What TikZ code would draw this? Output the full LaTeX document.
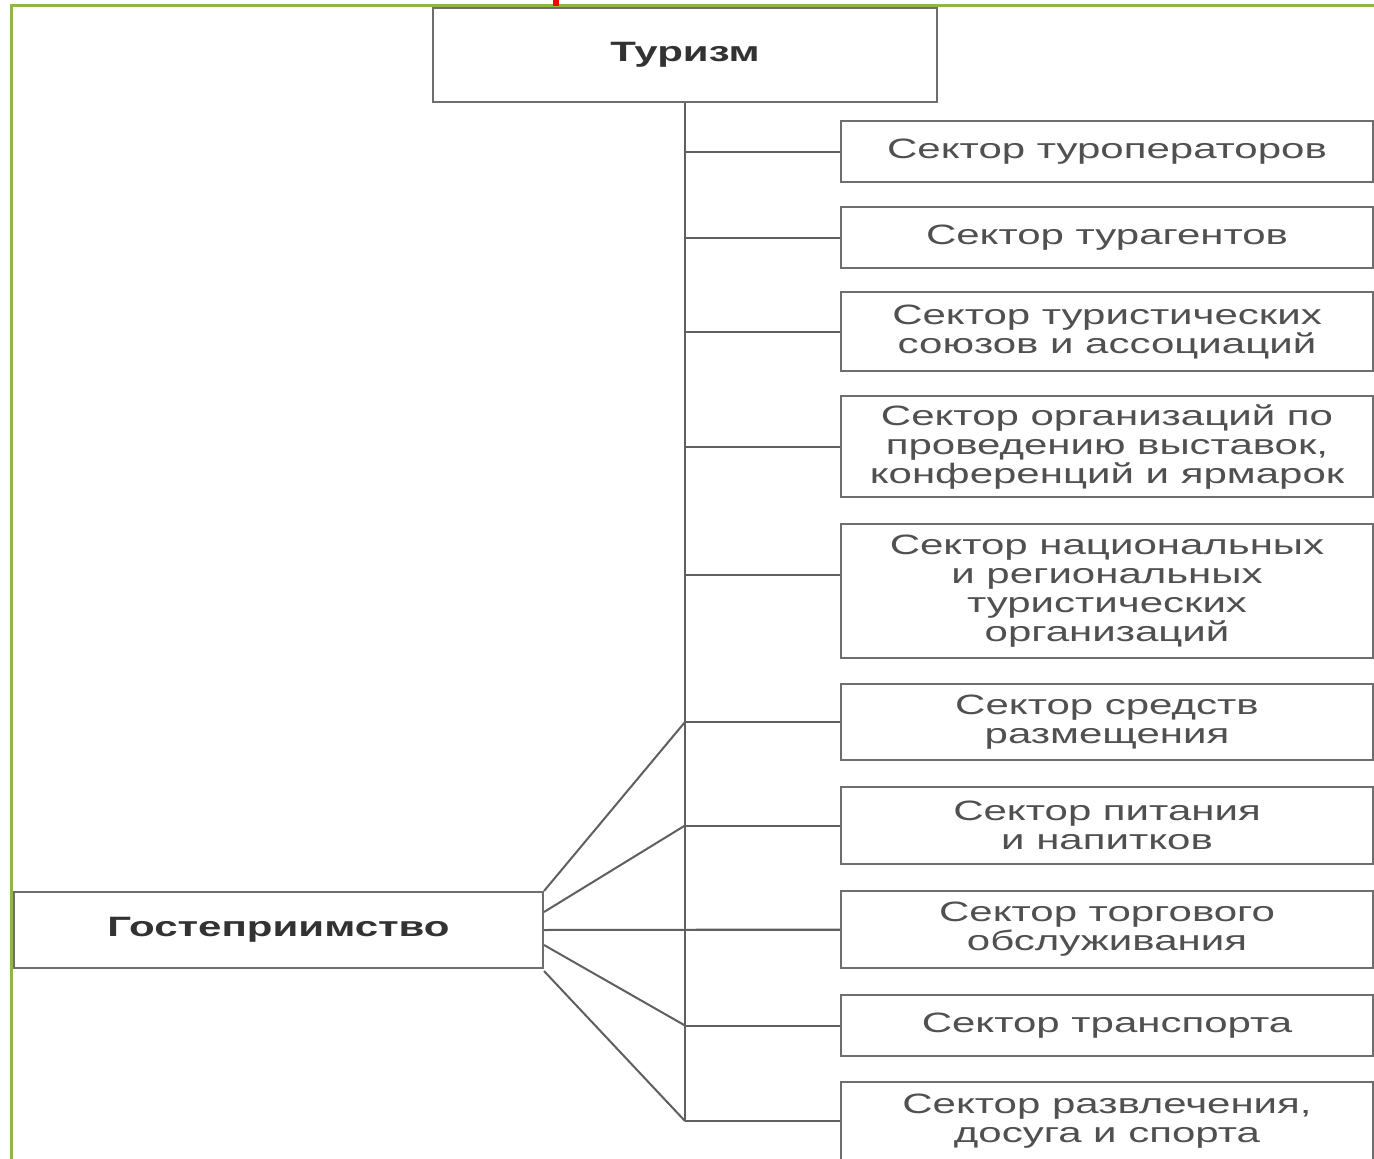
\documentclass[tikz,border=0pt]{standalone}
\usepackage{fontspec}
\setmainfont[FakeStretch=1.5]{Liberation Sans}
\usetikzlibrary{positioning}
\definecolor{boxgray}{RGB}{110,110,110}
\definecolor{linegray}{RGB}{95,95,95}
\definecolor{textgray}{RGB}{80,80,80}
\definecolor{headgray}{RGB}{50,50,50}
\definecolor{framegreen}{RGB}{140,185,70}

\begin{document}
\begin{tikzpicture}[x=0.5pt, y=-0.5pt,
    sector/.style={draw=boxgray, line width=1pt, minimum width=266pt, inner sep=0pt,
        align=center, anchor=west, text=textgray, font=\fontsize{14}{14.5}\selectfont},
    head/.style={draw=boxgray, line width=1pt, inner sep=0pt, text=headgray,
        font=\bfseries\fontsize{14}{14.5}\selectfont},
    link/.style={draw=linegray, line width=1pt}
]
    \useasboundingbox (0,0) rectangle (1374,1159);
    \fill[white] (0,0) rectangle (1374,1159);

    % frame and cut-off mark
    \draw[framegreen, line width=1.5pt] (11,1159) -- (11,6) -- (1374,6);
    \fill[red] (553,0) rectangle (559,6);

    \node[head, minimum width=252pt, minimum height=47pt] (tur) at (685,55) {Туризм};
    \node[head, minimum width=264.5pt, minimum height=38pt] (gost) at (278.5,930) {Гостеприимство};

    \node[sector, minimum height=30.5pt] (s1) at (840,152) {Сектор туроператоров};
    \node[sector, minimum height=30.5pt] (s2) at (840,238) {Сектор турагентов};
    \node[sector, minimum height=39.5pt] (s3) at (840,332) {Сектор туристических\\союзов и ассоциаций};
    \node[sector, minimum height=50.5pt] (s4) at (840,447) {Сектор организаций по\\проведению выставок,\\конференций и ярмарок};
    \node[sector, minimum height=67pt] (s5) at (840,591) {Сектор национальных\\и региональных\\туристических\\организаций};
    \node[sector, minimum height=38pt] (s6) at (840,722) {Сектор средств\\размещения};
    \node[sector, minimum height=38.5pt] (s7) at (840,825.5) {Сектор питания\\и напитков};
    \node[sector, minimum height=38.5pt] (s8) at (840,929.5) {Сектор торгового\\обслуживания};
    \node[sector, minimum height=30.5pt] (s9) at (840,1025.5) {Сектор транспорта};
    \node[sector, minimum height=39pt] (s10) at (840,1121) {Сектор развлечения,\\досуга и спорта};

    % trunk from Туризм
    \draw[link] (tur.south) -- (tur.south |- s10.west);
    \draw[link] (tur.south |- s1.west) -- (s1.west);
    \draw[link] (tur.south |- s2.west) -- (s2.west);
    \draw[link] (tur.south |- s3.west) -- (s3.west);
    \draw[link] (tur.south |- s4.west) -- (s4.west);
    \draw[link] (tur.south |- 0,575) -- (s5.west |- 0,575);
    \draw[link] (tur.south |- s6.west) -- (s6.west);
    \draw[link] (tur.south |- s7.west) -- (s7.west);
    \draw[link] (tur.south |- s8.west) -- (s8.west);
    \draw[link] (tur.south |- s9.west) -- (s9.west);
    \draw[link] (tur.south |- s10.west) -- (s10.west);

    % fan from Гостеприимство
    \draw[link] (gost.north east) -- (tur.south |- s6.west);
    \draw[link] ([yshift=9pt]gost.east) -- (tur.south |- s7.west);
    \draw[link] (gost.east) -- (s8.west);
    \draw[link] ([yshift=-7.5pt]gost.east) -- (tur.south |- s9.west);
    \draw[link] ([yshift=-1pt]gost.south east) -- (tur.south |- s10.west);
\end{tikzpicture}
\end{document}
